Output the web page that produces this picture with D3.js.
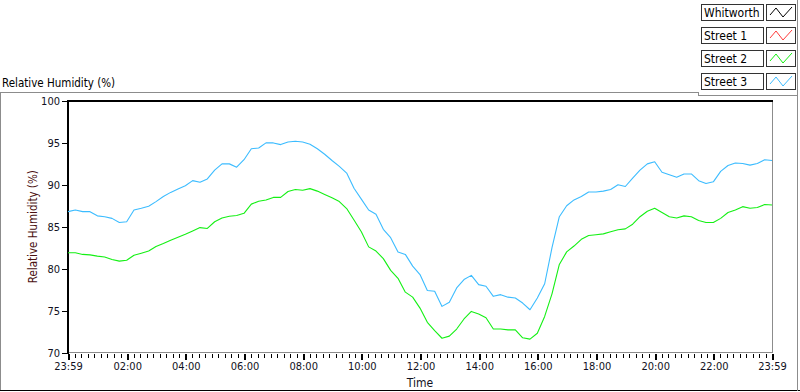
<!DOCTYPE html>
<html>
<head>
<meta charset="utf-8">
<script src="https://cdn.jsdelivr.net/npm/d3@7"></script>
<style>
  html, body { margin: 0; padding: 0; background: #ffffff; }
  svg { display: block; }
  text { font-family: "DejaVu Sans Condensed", "Liberation Sans", sans-serif; }
</style>
</head>
<body>
<svg id="chart" width="800" height="392"></svg>
<script>
// ---------------- DATA ----------------
const seriesNames = ["Whitworth", "Street 1", "Street 2", "Street 3"];
const seriesColors = ["#000000", "#ff3b3b", "#14f014", "#3cbcff"];

// samples every 15 minutes starting at 23:59 (offset in minutes from start)
const stepMinutes = 15;

const whitworth = [];
const street1 = [];

const street2 = [
  81.9, 81.9, 81.7, 81.65, 81.5, 81.4, 81.1, 80.9, 81.0, 81.6,
  81.85, 82.1, 82.65, 83.0, 83.4, 83.75, 84.1, 84.5, 84.9, 84.8,
  85.6, 86.05, 86.25, 86.35, 86.6, 87.7, 88.05, 88.2, 88.5, 88.5,
  89.2, 89.45, 89.35, 89.55, 89.25, 88.85, 88.45, 88.0, 87.17, 85.8,
  84.4, 82.6, 82.1, 81.2, 79.8, 78.85, 77.2, 76.6, 75.3, 73.6,
  72.6, 71.7, 71.95, 72.8, 74.0, 74.9, 74.6, 74.15, 72.8, 72.8,
  72.7, 72.7, 71.75, 71.6, 72.3, 74.3, 77.0, 80.5, 82.0, 82.7,
  83.5, 83.95, 84.05, 84.15, 84.4, 84.65, 84.75, 85.3, 86.2, 86.85,
  87.2, 86.7, 86.2, 86.05, 86.3, 86.2, 85.75, 85.5, 85.5, 86.0,
  86.7, 87.0, 87.4, 87.2, 87.3, 87.65, 87.6
];

const street3 = [
  86.8, 87.0, 86.8, 86.8, 86.3, 86.2, 86.0, 85.5, 85.6, 87.0,
  87.2, 87.45, 88.0, 88.6, 89.1, 89.5, 89.9, 90.5, 90.3, 90.7,
  91.75, 92.5, 92.5, 92.1, 93.0, 94.3, 94.4, 95.0, 95.0, 94.8,
  95.1, 95.2, 95.1, 94.85, 94.3, 93.65, 92.9, 92.2, 91.4, 89.6,
  88.3, 87.0, 86.5, 84.7, 83.7, 82.0, 81.7, 80.3, 79.3, 77.4,
  77.3, 75.5, 76.0, 77.7, 78.7, 79.2, 78.1, 77.9, 76.7, 76.9,
  76.6, 76.5, 75.9, 75.1, 76.5, 78.2, 82.5, 86.2, 87.5, 88.2,
  88.6, 89.15, 89.15, 89.25, 89.45, 90.0, 89.8, 90.8, 91.75, 92.5,
  92.75, 91.5, 91.2, 90.9, 91.3, 91.3, 90.5, 90.15, 90.36, 91.6,
  92.3, 92.6, 92.55, 92.35, 92.55, 93.0, 92.9
];

const xTickLabels = ["23:59", "02:00", "04:00", "06:00", "08:00", "10:00", "12:00",
                     "14:00", "16:00", "18:00", "20:00", "22:00", "23:59"];
const yTickValues = [70, 75, 80, 85, 90, 95, 100];
const chartTitle = "Relative Humidity (%)";
const yAxisTitle = "Relative Humidity (%)";
const xAxisTitle = "Time";

// ---------------- LAYOUT ----------------
const svg = d3.select("#chart");
const plot = { left: 68, right: 772, top: 101, bottom: 352.5 };
const totalMinutes = 1440;

const x = d3.scaleLinear().domain([0, totalMinutes]).range([plot.left, plot.right]);
const y = d3.scaleLinear().domain([70, 100]).range([plot.bottom, plot.top]);

// label -> minutes since 23:59 start
function labelToMinutes(lbl, i) {
  if (i === 0) return 0;
  if (i === xTickLabels.length - 1) return totalMinutes;
  const [h, m] = lbl.split(":").map(Number);
  return h * 60 + m + 1;
}
const majorMinutes = xTickLabels.map(labelToMinutes);
const minorMinutes = [];
for (let i = 0; i < majorMinutes.length - 1; i++) {
  const a = majorMinutes[i], b = majorMinutes[i + 1];
  for (let k = 1; k <= 8; k++) minorMinutes.push(a + (b - a) * k / 9);
}

// ---------------- PANEL FRAME ----------------
const frame = svg.append("g").attr("shape-rendering", "crispEdges");
frame.append("line").attr("x1", 0).attr("x2", 698).attr("y1", 92.5).attr("y2", 92.5)
  .attr("stroke", "#8c8c8c");
frame.append("line").attr("x1", 0.5).attr("x2", 0.5).attr("y1", 92).attr("y2", 391)
  .attr("stroke", "#8c8c8c");
frame.append("line").attr("x1", 0).attr("x2", 800).attr("y1", 390.5).attr("y2", 390.5)
  .attr("stroke", "#000000");
frame.append("line").attr("x1", 797.5).attr("x2", 797.5).attr("y1", 0).attr("y2", 391)
  .attr("stroke", "#8c8c8c");
// legend panel border
frame.append("line").attr("x1", 698.5).attr("x2", 698.5).attr("y1", 92).attr("y2", 95.5)
  .attr("stroke", "#8c8c8c");
frame.append("line").attr("x1", 698).attr("x2", 798).attr("y1", 95.5).attr("y2", 95.5)
  .attr("stroke", "#8c8c8c");

// chart title
svg.append("text").attr("x", 2).attr("y", 87).attr("font-size", 11.5)
  .attr("fill", "#000").text(chartTitle);

// ---------------- PLOT AREA ----------------
const pa = svg.append("g").attr("shape-rendering", "crispEdges");
pa.append("rect").attr("x", plot.left).attr("y", plot.top)
  .attr("width", plot.right - plot.left).attr("height", plot.bottom - plot.top)
  .attr("fill", "#ffffff");
// bottom & right (gray)
pa.append("line").attr("x1", plot.left).attr("x2", plot.right + 0.5)
  .attr("y1", plot.bottom).attr("y2", plot.bottom).attr("stroke", "#8c8c8c");
pa.append("line").attr("x1", plot.right + 0.5).attr("x2", plot.right + 0.5)
  .attr("y1", plot.top).attr("y2", plot.bottom).attr("stroke", "#8c8c8c");
// top & left (black, thick)
pa.append("line").attr("x1", plot.left).attr("x2", plot.right + 1)
  .attr("y1", plot.top).attr("y2", plot.top).attr("stroke", "#000").attr("stroke-width", 2);
pa.append("line").attr("x1", plot.left).attr("x2", plot.left)
  .attr("y1", plot.top - 1).attr("y2", plot.bottom + 1).attr("stroke", "#000").attr("stroke-width", 2);

// ---------------- AXES ----------------
const yAxis = d3.axisLeft(y).tickValues(yTickValues).tickSize(5).tickPadding(2)
  .tickFormat(d3.format("d"));
const yG = svg.append("g").attr("transform", `translate(${plot.left - 1},0)`).call(yAxis);
yG.select(".domain").remove();
yG.selectAll(".tick line").attr("stroke", "#000").attr("shape-rendering", "crispEdges");
yG.selectAll(".tick text").attr("font-size", 11).attr("fill", "#111122")
  .attr("font-family", "DejaVu Sans Condensed, Liberation Sans, sans-serif");

const xAxis = d3.axisBottom(x).tickValues(majorMinutes).tickSize(6).tickPadding(3)
  .tickFormat((d, i) => xTickLabels[i]);
const xG = svg.append("g").attr("transform", `translate(0,${plot.bottom + 1})`).call(xAxis);
xG.select(".domain").remove();
xG.selectAll(".tick line").attr("stroke", "#000").attr("stroke-width", 2)
  .attr("shape-rendering", "crispEdges");
xG.selectAll(".tick text").attr("font-size", 11).attr("fill", "#111122")
  .attr("font-family", "DejaVu Sans Condensed, Liberation Sans, sans-serif");

const xMinor = d3.axisBottom(x).tickValues(minorMinutes).tickSize(4).tickFormat("");
const xmG = svg.append("g").attr("transform", `translate(0,${plot.bottom + 1})`).call(xMinor);
xmG.select(".domain").remove();
xmG.selectAll(".tick line").attr("stroke", "#000").attr("shape-rendering", "crispEdges");

// axis titles
svg.append("text").attr("x", (plot.left + plot.right) / 2).attr("y", 387)
  .attr("text-anchor", "middle").attr("font-size", 12).attr("fill", "#111122").text(xAxisTitle);
svg.append("text")
  .attr("transform", `translate(37,${(plot.top + plot.bottom) / 2}) rotate(-90)`)
  .attr("text-anchor", "middle").attr("font-size", 11.5).attr("fill", "#4a1010").text(yAxisTitle);

// ---------------- LINES ----------------
const lineGen = d3.line()
  .x((d, i) => x(i * stepMinutes))
  .y(d => y(d));

const allSeries = [whitworth, street1, street2, street3];
const lines = svg.append("g");
allSeries.forEach((vals, i) => {
  if (!vals.length) return;
  lines.append("path").datum(vals)
    .attr("d", lineGen)
    .attr("fill", "none")
    .attr("stroke", seriesColors[i])
    .attr("stroke-width", 1.1)
    .attr("stroke-linejoin", "round");
});

// ---------------- LEGEND ----------------
const legend = svg.append("g");
seriesNames.forEach((name, i) => {
  const gy = 4 + i * 23;
  const g = legend.append("g").attr("transform", `translate(0,${gy})`);
  g.append("rect").attr("x", 701.5).attr("y", 0.5).attr("width", 62).attr("height", 16)
    .attr("fill", "#fff").attr("stroke", "#333").attr("shape-rendering", "crispEdges");
  g.append("text").attr("x", 704).attr("y", 13).attr("font-size", 12)
    .attr("fill", "#000").text(name);
  g.append("rect").attr("x", 766.5).attr("y", 0.5).attr("width", 29).attr("height", 16)
    .attr("fill", "#fff").attr("stroke", "#333").attr("shape-rendering", "crispEdges");
  const pts = [[770, 11], [776, 4], [783, 13], [792, 3]];
  g.append("path").attr("d", d3.line()(pts)).attr("fill", "none")
    .attr("stroke", seriesColors[i]).attr("stroke-width", 1);
});
</script>
</body>
</html>
